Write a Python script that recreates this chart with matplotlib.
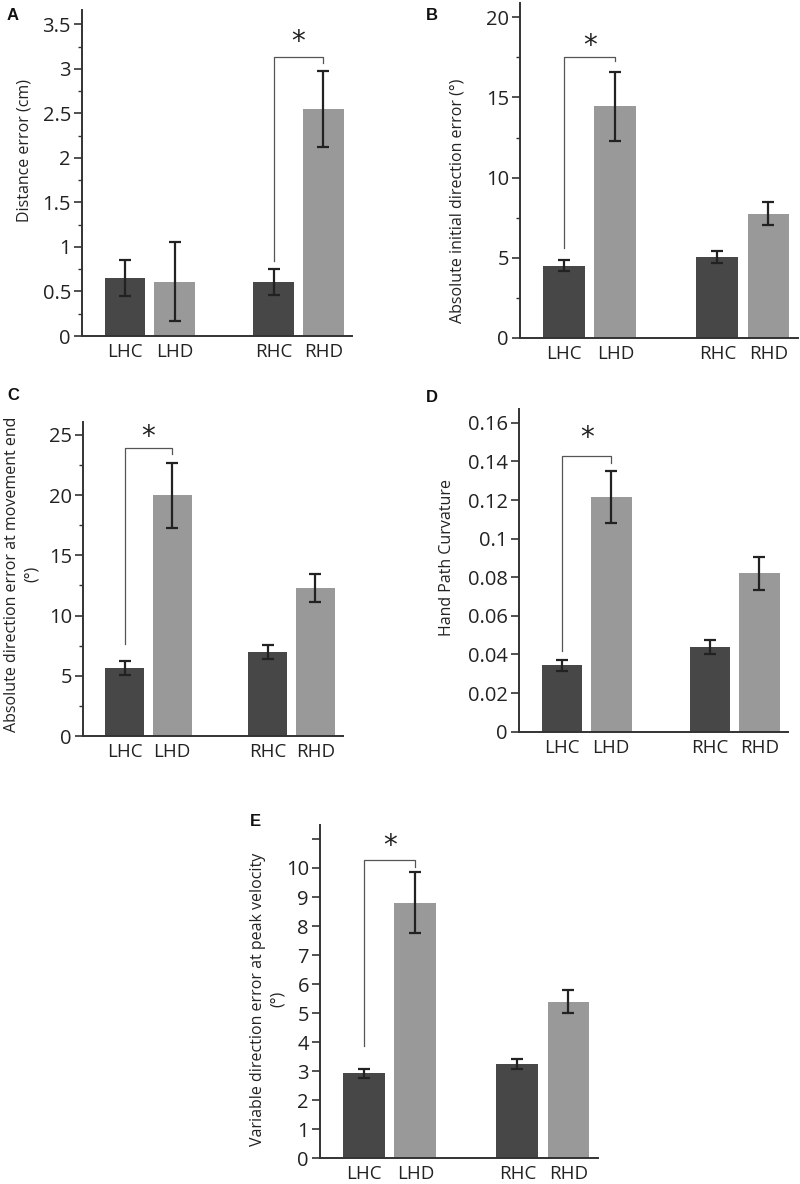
import matplotlib
matplotlib.use("Agg")
import matplotlib.pyplot as plt
from matplotlib.ticker import MultipleLocator, FuncFormatter

plt.rcParams['font.family'] = ['Open Sans', 'DejaVu Sans']

cats = ['LHC', 'LHD', 'RHC', 'RHD']
xpos = [0, 1, 3, 4]

a_means = [0.65, 0.61, 0.61, 2.55]
a_err = [0.20, 0.44, 0.145, 0.43]
b_means = [4.5, 14.45, 5.05, 7.75]
b_err = [0.35, 2.15, 0.38, 0.72]
c_means = [5.65, 20.0, 7.0, 12.3]
c_err = [0.55, 2.7, 0.58, 1.15]
d_means = [0.0345, 0.1215, 0.044, 0.082]
d_err = [0.0028, 0.0135, 0.0035, 0.0085]
e_means = [2.93, 8.8, 3.25, 5.4]
e_err = [0.15, 1.05, 0.18, 0.38]

DARK = '#474747'
LIGHT = '#999999'
AXC = '#333333'

W, H = 800, 1184
fig = plt.figure(figsize=(W / 100, H / 100), dpi=100)


def make_ax(left, right, bottom, top):
    return fig.add_axes([left / W, 1 - bottom / H, (right - left) / W, (bottom - top) / H])


def fmt(v, pos):
    return '%g' % round(v, 4)


def panel(ax, means, errs, ymax, major, minor, bracket, label_max=None):
    colors = [DARK, LIGHT, DARK, LIGHT]
    ax.bar(xpos, means, width=0.82, color=colors, zorder=2)
    ax.errorbar(xpos, means, yerr=errs, fmt='none', ecolor='#222222',
                elinewidth=1.6, capsize=4, capthick=1.6, zorder=3)
    ax.set_xlim(-0.87, 4.58)
    ax.set_ylim(0, ymax)
    for s in ['top', 'right']:
        ax.spines[s].set_visible(False)
    for s in ['left', 'bottom']:
        ax.spines[s].set_color(AXC)
        ax.spines[s].set_linewidth(1.4)
    ax.set_xticks(xpos)
    ax.set_xticklabels(cats)
    ax.tick_params(axis='x', length=0, pad=5, labelsize=13.5, colors='#222222')
    ax.yaxis.set_major_locator(MultipleLocator(major))
    if minor:
        ax.yaxis.set_minor_locator(MultipleLocator(minor))
    if label_max is not None:
        ax.yaxis.set_major_formatter(FuncFormatter(
            lambda v, p: '' if v > label_max + 1e-9 else fmt(v, p)))
    else:
        ax.yaxis.set_major_formatter(FuncFormatter(fmt))
    ax.tick_params(axis='y', which='major', length=6, width=1.2, color=AXC,
                   labelsize=14.5, labelcolor='#222222', pad=2)
    ax.tick_params(axis='y', which='minor', length=3, width=1.0, color=AXC)
    i, j, ylo_i, ytop, ylo_j, ystar = bracket
    ax.plot([xpos[i], xpos[i], xpos[j], xpos[j]], [ylo_i, ytop, ytop, ylo_j],
            color='#555555', lw=0.9, zorder=4)
    ax.text((xpos[i] + xpos[j]) / 2, ystar, '*', ha='center', va='center',
            fontsize=20, color='#222222', family='DejaVu Sans')


axA = make_ax(82, 352, 336, 10)
panel(axA, a_means, a_err, 3.66, 0.5, 0.25, (2, 3, 0.84, 3.13, 3.07, 3.30))
axB = make_ax(520, 798, 337.7, 3)
panel(axB, b_means, b_err, 20.9, 5, 2.5, (0, 1, 5.6, 17.5, 17.25, 18.2))
axC = make_ax(83, 343, 736, 421.7)
panel(axC, c_means, c_err, 26.1, 5, 2.5, (0, 1, 7.65, 23.9, 23.4, 24.8))
axD = make_ax(519, 788, 731.7, 409.3)
panel(axD, d_means, d_err, 0.167, 0.02, None, (0, 1, 0.0418, 0.1428, 0.139, 0.152))
axE = make_ax(320, 598, 1158.3, 825)
panel(axE, e_means, e_err, 11.48, 1, None, (0, 1, 3.87, 10.27, 10.05, 10.75), label_max=10)

# y labels
ylab_kw = dict(rotation=90, ha='center', va='center', fontsize=11.5, color='#222222')
fig.text(25 / W, 1 - 150 / H, 'Distance error (cm)', **ylab_kw)
fig.text(458 / W, 1 - 201 / H, 'Absolute initial direction error (°)', **ylab_kw)
fig.text(22 / W, 1 - 574 / H, 'Absolute direction error at movement end\n(°)',
         multialignment='center', linespacing=1.25, **ylab_kw)
fig.text(447 / W, 1 - 557 / H, 'Hand Path Curvature', **ylab_kw)
fig.text(268 / W, 1 - 999 / H, 'Variable direction error at peak velocity\n(°)',
         multialignment='center', linespacing=1.25, **ylab_kw)

# panel letters
let_kw = dict(ha='center', va='center', fontsize=12, fontweight='bold',
              family='Liberation Sans', color='#111111')
fig.text(13 / W, 1 - 15 / H, 'A', **let_kw)
fig.text(432 / W, 1 - 15 / H, 'B', **let_kw)
fig.text(13 / W, 1 - 396 / H, 'C', **let_kw)
fig.text(432 / W, 1 - 397 / H, 'D', **let_kw)
fig.text(255 / W, 1 - 822 / H, 'E', **let_kw)

fig.savefig('out.png', dpi=100, facecolor='white')
